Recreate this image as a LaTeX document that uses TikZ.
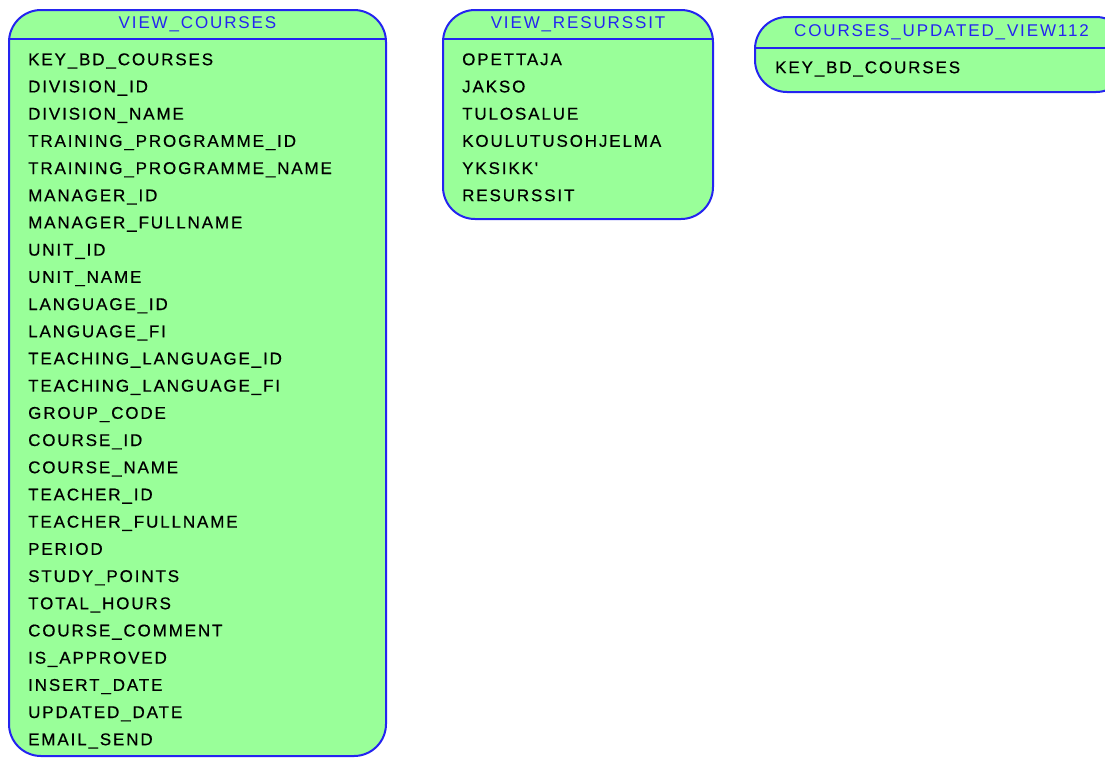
\documentclass[tikz,border=0pt]{standalone}
\usepackage{fontspec}
\setmainfont{Liberation Sans}
\newfontfamily\colfont[LetterSpace=11,FakeBold=0.5]{Liberation Sans}
\newfontfamily\titfont[LetterSpace=11]{Liberation Sans}
\usetikzlibrary{matrix,positioning}
\definecolor{viewgreen}{RGB}{153,255,153}
\definecolor{viewblue}{RGB}{36,36,240}

\begin{document}
\begin{tikzpicture}[x=1pt,y=-1pt,
    vbox/.style={draw=viewblue,fill=viewgreen,line width=2pt,rounded corners=32pt},
    vsep/.style={draw=viewblue,line width=1.8pt},
    vtitle/.style={text=viewblue,inner sep=0pt,font=\titfont\fontsize{17}{20}\selectfont},
    vrows/.style={matrix of nodes,inner sep=0pt,row sep=0pt,anchor=north west,
    nodes={anchor=west,inner sep=0pt,minimum height=27.2pt,text height=12pt,text depth=0pt,
      font=\colfont\fontsize{17}{20}\selectfont}}]
 \clip (0,0) rectangle (1105,758);
 \fill[white] (0,0) rectangle (1105,758);
 % frames
 \path[vbox] (9,10) rectangle (386,756);
 \path[vsep] (9,39) -- (386,39);
 \path[vbox] (443,10) rectangle (713,219);
 \path[vsep] (443,39) -- (713,39);
 \path[vbox] (755,17) rectangle (1128,92);
 \path[vsep] (755,48) -- (1128,48);
 % titles
 \node[vtitle] (COURSES) at (197.5,24) {VIEW\_COURSES};
 \node[vtitle] (RES) at (578,24) {VIEW\_RESURSSIT};
 \node[vtitle] (UPD) at (941.5,32) {COURSES\_UPDATED\_VIEW112};
 % columns
 \matrix[vrows] (COURSES-col) at (28,45.4)
  {KEY\_BD\_COURSES\\ DIVISION\_ID\\ DIVISION\_NAME\\ TRAINING\_PROGRAMME\_ID\\
   TRAINING\_PROGRAMME\_NAME\\ MANAGER\_ID\\ MANAGER\_FULLNAME\\ UNIT\_ID\\
   UNIT\_NAME\\ LANGUAGE\_ID\\ LANGUAGE\_FI\\ TEACHING\_LANGUAGE\_ID\\
   TEACHING\_LANGUAGE\_FI\\ GROUP\_CODE\\ COURSE\_ID\\ COURSE\_NAME\\
   TEACHER\_ID\\ TEACHER\_FULLNAME\\ PERIOD\\ STUDY\_POINTS\\ TOTAL\_HOURS\\
   COURSE\_COMMENT\\ IS\_APPROVED\\ INSERT\_DATE\\ UPDATED\_DATE\\ EMAIL\_SEND\\};
 \matrix[vrows] (RES-col) at (462,45.4)
  {OPETTAJA\\ JAKSO\\ TULOSALUE\\ KOULUTUSOHJELMA\\ YKSIKK'\\ RESURSSIT\\};
 \matrix[vrows] (UPD-col) at (775,53.4)
  {KEY\_BD\_COURSES\\};
\end{tikzpicture}
\end{document}
